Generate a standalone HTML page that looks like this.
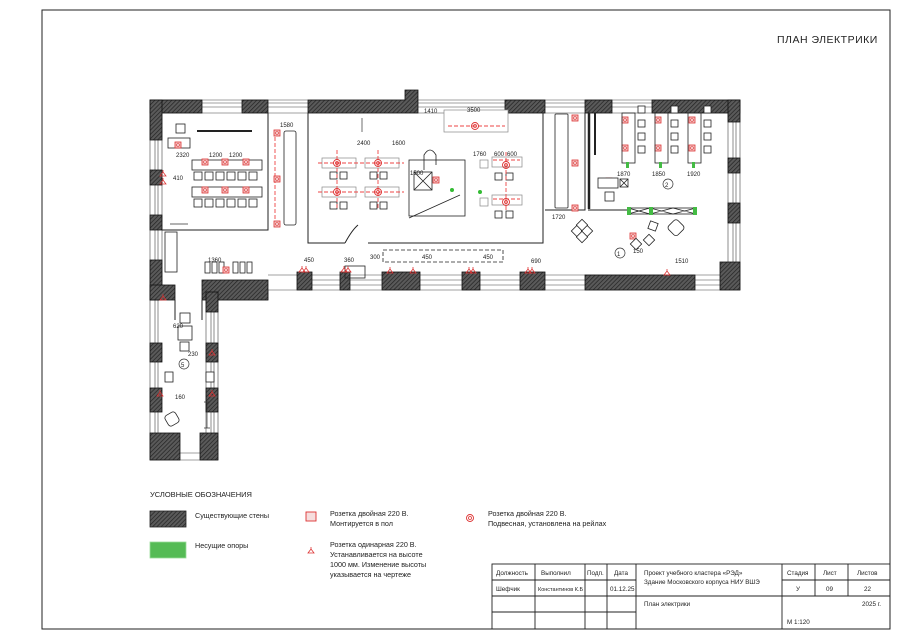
<!DOCTYPE html>
<html><head><meta charset="utf-8"><style>
html,body{margin:0;padding:0;background:#fff}
svg{display:block}
text{font-family:"Liberation Sans",sans-serif;fill:#222}
</style></head><body>
<svg width="900" height="636" viewBox="0 0 900 636" xmlns="http://www.w3.org/2000/svg">
<defs>
<pattern id="h" width="3" height="3" patternUnits="userSpaceOnUse" patternTransform="rotate(45)">
<rect width="3" height="3" fill="#5a5a5a"/><line x1="0" y1="0" x2="0" y2="3" stroke="#222" stroke-width="1.4"/>
</pattern>
<g id="sock"><rect x="-3" y="-3" width="6" height="6" fill="#f4c9c9" stroke="#d33" stroke-width="0.8"/><circle r="1.5" fill="none" stroke="#d33" stroke-width="0.6"/></g>
<g id="ring"><circle r="3.5" fill="none" stroke="#d33" stroke-width="0.9"/><circle r="1.5" fill="none" stroke="#d33" stroke-width="0.8"/></g>
<g id="one"><path d="M-3 3 L0 -1 L3 3 Z M-2 3 H2 M0 -1 V-3" fill="none" stroke="#d33" stroke-width="0.8"/></g>
</defs>
<rect x="42" y="10" width="848" height="619" fill="none" stroke="#222" stroke-width="1"/>
<text x="777" y="43" font-size="10.5" letter-spacing="0.5">ПЛАН ЭЛЕКТРИКИ</text>

<g stroke="#444" stroke-width="0.6" fill="none">
<path d="M150 100 H740 V290 H268 V300 H218 V460 H150 Z"/>
<path d="M162 113 H728 V275 H268 M162 113 V285 M206 300 V453 H162"/>
<path d="M202 103 H242 M202 107 H242 M268 103 H308 M268 107 H308 M418 103 H505 M418 107 H505 M545 103 H585 M545 107 H585 M612 103 H652 M612 107 H652"/>
<path d="M155 140 V170 M158 140 V170 M155 185 V215 M158 185 V215 M155 230 V260 M158 230 V260"/>
<path d="M733 122 V158 M736 122 V158 M733 173 V203 M736 173 V203 M733 223 V262 M736 223 V262"/>
<path d="M155 300 V343 M158 300 V343 M155 362 V388 M158 362 V388 M155 412 V433 M158 412 V433 M211 312 V343 M214 312 V343 M211 362 V388 M214 362 V388 M211 412 V433 M214 412 V433"/>
<path d="M312 280 H340 M312 285 H340 M350 280 H382 M350 285 H382 M420 280 H462 M420 285 H462 M480 280 H520 M480 285 H520 M545 280 H585 M545 285 H585 M695 280 H720 M695 285 H720"/>
</g>
<g fill="url(#h)" stroke="#111" stroke-width="0.8">
<rect x="150" y="100" width="52" height="13"/><rect x="150" y="100" width="12" height="40"/>
<rect x="242" y="100" width="26" height="13"/>
<path d="M308 100 H405 V90 H418 V100 H418 V113 H308 Z"/>
<rect x="505" y="100" width="40" height="13"/><rect x="585" y="100" width="27" height="13"/>
<rect x="652" y="100" width="88" height="13"/><rect x="728" y="100" width="12" height="22"/>
<rect x="150" y="170" width="12" height="15"/><rect x="150" y="215" width="12" height="15"/>
<rect x="150" y="260" width="12" height="40"/><rect x="150" y="285" width="25" height="15"/>
<rect x="202" y="280" width="66" height="20"/>
<rect x="728" y="158" width="12" height="15"/><rect x="728" y="203" width="12" height="20"/>
<rect x="720" y="262" width="20" height="28"/>
<rect x="297" y="272" width="15" height="18"/><rect x="340" y="272" width="10" height="18"/>
<rect x="382" y="272" width="38" height="18"/><rect x="462" y="272" width="18" height="18"/>
<rect x="520" y="272" width="25" height="18"/><rect x="585" y="275" width="110" height="15"/>
<rect x="150" y="343" width="12" height="19"/><rect x="150" y="388" width="12" height="24"/>
<rect x="150" y="433" width="30" height="27"/><rect x="206" y="292" width="12" height="20"/>
<rect x="206" y="343" width="12" height="19"/><rect x="206" y="388" width="12" height="24"/>
<rect x="200" y="433" width="18" height="27"/>
</g>
<g stroke="#222" stroke-width="1" fill="none">
<path d="M268 113 V230 H162"/>
<path d="M308 113 V243 H345 M368 243 H543 V113"/>
<path d="M345 243 Q352 230 358 225"/>
<path d="M585 113 V210 H545"/>
<path d="M589 113 V209" stroke-width="2.5"/>
<path d="M588 210 H630"/>
<path d="M175 300 V320 M202 300 V320"/>
</g>
<g stroke="#222" stroke-width="0.8" fill="#fff">
<rect x="176" y="124" width="9" height="9"/><rect x="168" y="138" width="22" height="10"/>
<line x1="197" y1="131" x2="252" y2="131" stroke-width="2"/>
<rect x="192" y="160" width="70" height="10"/><rect x="192" y="187" width="70" height="10"/>
<rect x="284" y="131" width="12" height="94" rx="2"/>
<rect x="165" y="232" width="12" height="40"/>
<rect x="345" y="266" width="20" height="12" fill="none"/>
</g>
<g stroke="#222" stroke-width="0.8" fill="#fff">
<rect x="194" y="172" width="8" height="8"/><rect x="205" y="172" width="8" height="8"/><rect x="216" y="172" width="8" height="8"/><rect x="227" y="172" width="8" height="8"/><rect x="238" y="172" width="8" height="8"/><rect x="249" y="172" width="8" height="8"/>
<rect x="194" y="199" width="8" height="8"/><rect x="205" y="199" width="8" height="8"/><rect x="216" y="199" width="8" height="8"/><rect x="227" y="199" width="8" height="8"/><rect x="238" y="199" width="8" height="8"/><rect x="249" y="199" width="8" height="8"/>
</g>
<g stroke="#222" stroke-width="0.8" fill="#fff">
<rect x="205" y="262" width="5" height="11"/><rect x="212" y="262" width="5" height="11"/><rect x="219" y="262" width="5" height="11"/><rect x="233" y="262" width="5" height="11"/><rect x="240" y="262" width="5" height="11"/><rect x="247" y="262" width="5" height="11"/>
</g>
<g stroke="#888" stroke-width="0.7" fill="#fff">
<rect x="322" y="158" width="34" height="10"/><rect x="365" y="158" width="34" height="10"/>
<rect x="322" y="187" width="34" height="10"/><rect x="365" y="187" width="34" height="10"/>
<rect x="444" y="110" width="64" height="22"/>
<rect x="492" y="157" width="30" height="10"/><rect x="492" y="195" width="30" height="10"/>
<rect x="480" y="160" width="8" height="8"/><rect x="480" y="198" width="8" height="8"/>
</g>
<g stroke="#222" stroke-width="0.8" fill="#fff">
<rect x="330" y="172" width="7" height="7"/><rect x="340" y="172" width="7" height="7"/><rect x="370" y="172" width="7" height="7"/><rect x="380" y="172" width="7" height="7"/>
<rect x="330" y="202" width="7" height="7"/><rect x="340" y="202" width="7" height="7"/><rect x="370" y="202" width="7" height="7"/><rect x="380" y="202" width="7" height="7"/>
<rect x="495" y="173" width="7" height="7"/><rect x="506" y="173" width="7" height="7"/><rect x="495" y="211" width="7" height="7"/><rect x="506" y="211" width="7" height="7"/>
<rect x="409" y="160" width="56" height="56" fill="none"/>
<path d="M414 172 L432 190 M432 172 L414 190 M409 218 L460 195" fill="none"/>
<rect x="414" y="172" width="18" height="18" fill="none"/>
<path d="M424 170 V155 Q430 145 436 155 V165" fill="none"/>
<rect x="383" y="250" width="120" height="12" fill="none" stroke-dasharray="4 2"/>
</g>
<circle cx="452" cy="190" r="2" fill="#3b3"/><circle cx="480" cy="192" r="2" fill="#3b3"/>
<g stroke="#e44" stroke-width="0.9" stroke-dasharray="4 2" fill="none">
<path d="M337 150 V210 M378 150 V210 M318 163 H404 M318 192 H404 M448 126 H505 M506 152 V210 M493 160 H520 M493 199 H520 M275 131 V222"/>
</g>
<g>
<use href="#ring" x="337" y="163"/><use href="#ring" x="378" y="163"/><use href="#ring" x="337" y="192"/><use href="#ring" x="378" y="192"/>
<use href="#ring" x="475" y="126"/><use href="#ring" x="506" y="165"/><use href="#ring" x="506" y="202"/>
<use href="#sock" x="178" y="145"/><use href="#sock" x="205" y="162"/><use href="#sock" x="225" y="162"/><use href="#sock" x="246" y="162"/>
<use href="#sock" x="205" y="190"/><use href="#sock" x="225" y="190"/><use href="#sock" x="246" y="190"/>
<use href="#sock" x="277" y="133"/><use href="#sock" x="277" y="179"/><use href="#sock" x="277" y="224"/>
<use href="#sock" x="226" y="270"/><use href="#sock" x="436" y="180"/>
<use href="#sock" x="575" y="118"/><use href="#sock" x="575" y="163"/><use href="#sock" x="575" y="208"/>
<use href="#sock" x="625" y="120"/><use href="#sock" x="658" y="120"/><use href="#sock" x="692" y="120"/>
<use href="#sock" x="625" y="148"/><use href="#sock" x="658" y="148"/><use href="#sock" x="692" y="148"/>
<use href="#sock" x="609" y="181"/><use href="#sock" x="633" y="236"/>
<use href="#one" x="163" y="173"/><use href="#one" x="163" y="181"/>
<use href="#one" x="302" y="269"/><use href="#one" x="306" y="269"/><use href="#one" x="344" y="269"/><use href="#one" x="348" y="269"/>
<use href="#one" x="390" y="270"/><use href="#one" x="413" y="270"/><use href="#one" x="469" y="270"/><use href="#one" x="473" y="270"/><use href="#one" x="528" y="270"/><use href="#one" x="532" y="270"/><use href="#one" x="667" y="272"/>
<use href="#one" x="163" y="297"/><use href="#one" x="212" y="352"/><use href="#one" x="160" y="393"/><use href="#one" x="212" y="393"/>
</g>
<g stroke="#222" stroke-width="0.8" fill="#fff">
<rect x="555" y="114" width="13" height="94" rx="1"/>
<line x1="595" y1="113" x2="595" y2="155" stroke-width="2"/>
<rect x="622" y="113" width="13" height="50" fill="none"/><rect x="655" y="113" width="13" height="50" fill="none"/><rect x="688" y="113" width="13" height="50" fill="none"/>
<rect x="598" y="178" width="20" height="10"/><rect x="620" y="179" width="8" height="8"/>
<path d="M620 179 L628 187 M628 179 L620 187"/>
<rect x="605" y="192" width="9" height="9"/>
<rect x="628" y="208" width="68" height="6"/>
<path d="M628 208 L650 214 M650 208 L628 214 M650 208 L673 214 M673 208 L650 214 M673 208 L696 214 M696 208 L673 214"/>
</g>
<g stroke="#222" stroke-width="0.8" fill="#fff">
<rect x="638" y="106" width="7" height="7"/><rect x="638" y="120" width="7" height="7"/><rect x="638" y="133" width="7" height="7"/><rect x="638" y="146" width="7" height="7"/>
<rect x="671" y="106" width="7" height="7"/><rect x="671" y="120" width="7" height="7"/><rect x="671" y="133" width="7" height="7"/><rect x="671" y="146" width="7" height="7"/>
<rect x="704" y="106" width="7" height="7"/><rect x="704" y="120" width="7" height="7"/><rect x="704" y="133" width="7" height="7"/><rect x="704" y="146" width="7" height="7"/>
<rect x="573" y="227" width="8" height="8" transform="rotate(45 577 231)"/><rect x="583" y="227" width="8" height="8" transform="rotate(45 587 231)"/>
<rect x="578" y="221" width="8" height="8" transform="rotate(45 582 225)"/><rect x="578" y="233" width="8" height="8" transform="rotate(45 582 237)"/>
<rect x="649" y="222" width="8" height="8" transform="rotate(20 653 226)"/><rect x="645" y="236" width="8" height="8" transform="rotate(45 649 240)"/>
<rect x="632" y="240" width="8" height="8" transform="rotate(45 636 244)"/><rect x="670" y="221" width="13" height="13" rx="3" transform="rotate(45 676 227)"/>
<rect x="166" y="413" width="12" height="12" rx="3" transform="rotate(-30 172 419)"/>
<rect x="180" y="313" width="10" height="10"/><rect x="178" y="326" width="14" height="14"/><rect x="180" y="342" width="9" height="9"/>
<rect x="165" y="372" width="8" height="10"/><rect x="206" y="372" width="8" height="10" />
</g>
<g fill="#4b4"><rect x="627" y="207" width="4" height="8"/><rect x="649" y="207" width="4" height="8"/><rect x="693" y="207" width="4" height="8"/><rect x="626" y="162" width="3" height="6"/><rect x="659" y="162" width="3" height="6"/><rect x="692" y="162" width="3" height="6"/></g>
<g fill="none" stroke="#333" stroke-width="0.7">
<circle cx="620" cy="253" r="5"/><circle cx="668" cy="184" r="5"/><circle cx="184" cy="364" r="5"/>
<path d="M207 402 V428 M204 402 H210 M204 428 H210 M170 224 H188 M362 118 V132"/>
</g>
<g font-size="6" fill="#333">
<text x="617" y="256">1</text><text x="665" y="187">2</text><text x="181" y="367">5</text>
<text x="176" y="157">2320</text><text x="209" y="157">1200</text><text x="229" y="157">1200</text><text x="173" y="180">410</text>
<text x="280" y="127">1580</text><text x="357" y="145">2400</text><text x="392" y="145">1600</text>
<text x="424" y="113">1410</text><text x="467" y="112">3500</text><text x="473" y="156">1760</text><text x="494" y="156">600</text><text x="507" y="156">600</text>
<text x="410" y="175">1500</text><text x="552" y="219">1720</text><text x="617" y="176">1870</text><text x="652" y="176">1850</text><text x="687" y="176">1920</text>
<text x="208" y="262">1360</text><text x="304" y="262">450</text><text x="344" y="262">360</text><text x="370" y="259">300</text><text x="422" y="259">450</text><text x="483" y="259">450</text><text x="531" y="263">690</text><text x="675" y="263">1510</text><text x="633" y="253">150</text>
<text x="173" y="328">620</text><text x="188" y="356">230</text><text x="175" y="399">160</text>
</g>
<text x="150" y="497" font-size="7.5">УСЛОВНЫЕ ОБОЗНАЧЕНИЯ</text>
<rect x="150" y="511" width="36" height="16" fill="url(#h)" stroke="#222" stroke-width="0.8"/>
<rect x="150" y="542" width="36" height="16" fill="#5b5" stroke="#9d9" stroke-width="0.8"/>
<g font-size="7.2">
<text x="195" y="518">Существующие стены</text>
<text x="195" y="548">Несущие опоры</text>
<text x="330" y="516">Розетка двойная 220 В.</text><text x="330" y="526">Монтируется в пол</text>
<text x="330" y="547">Розетка одинарная 220 В.</text><text x="330" y="557">Устанавливается на высоте</text><text x="330" y="567">1000 мм. Изменение высоты</text><text x="330" y="577">указывается на чертеже</text>
<text x="488" y="516">Розетка двойная 220 В.</text><text x="488" y="526">Подвесная, установлена на рейлах</text>
</g>
<rect x="306" y="512" width="10" height="9" fill="#f6dede" stroke="#d33" stroke-width="0.9"/>
<use href="#one" x="311" y="550"/><use href="#ring" x="470" y="518"/>
<g stroke="#222" stroke-width="0.9" fill="none">
<rect x="492" y="564" width="398" height="65"/>
<path d="M492 580 H636 M782 580 H890 M492 596 H890 M492 612 H636 M535 564 V629 M585 564 V629 M607 564 V629 M636 564 V629 M782 564 V596 M782 596 V629 M815 564 V596 M848 564 V596"/>
</g>
<g font-size="6.3">
<text x="496" y="575">Должность</text><text x="541" y="575">Выполнил</text><text x="587" y="575">Подп.</text><text x="614" y="575">Дата</text>
<text x="496" y="591">Шефчик</text><text x="538" y="591" font-size="5.5">Константинов К.Б</text><text x="610" y="591">01.12.25</text>
<text x="644" y="575">Проект учебного кластера «РЭД»</text><text x="644" y="584">Здание Московского корпуса НИУ ВШЭ</text>
<text x="787" y="575">Стадия</text><text x="823" y="575">Лист</text><text x="857" y="575">Листов</text>
<text x="796" y="591">У</text><text x="826" y="591">09</text><text x="864" y="591">22</text>
<text x="644" y="606">План электрики</text><text x="862" y="606">2025 г.</text><text x="787" y="624">М 1:120</text>
</g>
</svg>
</body></html>
